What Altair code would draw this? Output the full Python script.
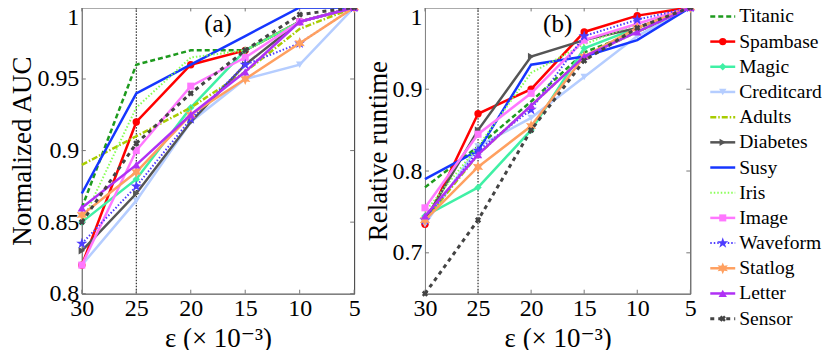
import altair as alt
import pandas as pd

eps = [30, 25, 20, 15, 10, 5]
series = ["Titanic", "Spambase", "Magic", "Creditcard", "Adults", "Diabetes", "Susy",
          "Iris", "Image", "Waveform", "Statlog", "Letter", "Sensor"]

auc = {
    "Titanic":    [0.86, 0.96, 0.97, 0.97, 0.99, 1.0],
    "Spambase":   [0.82, 0.92, 0.96, 0.97, 0.99, 1.0],
    "Magic":      [0.85, 0.88, 0.93, 0.97, 0.99, 1.0],
    "Creditcard": [0.82, 0.865, 0.92, 0.95, 0.96, 1.0],
    "Adults":     [0.89, 0.91, 0.93, 0.955, 0.985, 1.0],
    "Diabetes":   [0.83, 0.87, 0.92, 0.96, 0.99, 1.0],
    "Susy":       [0.87, 0.94, 0.96, 0.98, 1.0, 1.0],
    "Iris":       [0.85, 0.93, 0.965, 0.97, 0.99, 1.0],
    "Image":      [0.82, 0.90, 0.945, 0.965, 0.99, 1.0],
    "Waveform":   [0.835, 0.875, 0.922, 0.96, 0.975, 1.0],
    "Statlog":    [0.855, 0.885, 0.925, 0.95, 0.975, 1.0],
    "Letter":     [0.86, 0.89, 0.925, 0.955, 0.99, 1.0],
    "Sensor":     [0.85, 0.905, 0.94, 0.97, 0.995, 1.0],
}

runtime = {
    "Titanic":    [0.78, 0.83, 0.885, 0.945, 0.97, 1.0],
    "Spambase":   [0.735, 0.87, 0.90, 0.97, 0.99, 1.0],
    "Magic":      [0.745, 0.78, 0.85, 0.95, 0.975, 1.0],
    "Creditcard": [0.735, 0.83, 0.865, 0.915, 0.965, 1.0],
    "Adults":     [0.74, 0.82, 0.88, 0.94, 0.97, 1.0],
    "Diabetes":   [0.74, 0.85, 0.94, 0.96, 0.975, 1.0],
    "Susy":       [0.79, 0.825, 0.93, 0.94, 0.96, 1.0],
    "Iris":       [0.75, 0.83, 0.92, 0.955, 0.98, 1.0],
    "Image":      [0.755, 0.845, 0.895, 0.96, 0.98, 1.0],
    "Waveform":   [0.74, 0.825, 0.875, 0.965, 0.985, 1.0],
    "Statlog":    [0.74, 0.805, 0.855, 0.94, 0.975, 1.0],
    "Letter":     [0.745, 0.82, 0.88, 0.94, 0.97, 1.0],
    "Sensor":     [0.65, 0.74, 0.85, 0.935, 0.975, 1.0],
}

auc_ticks = [0.8, 0.85, 0.9, 0.95, 1.0]
rt_ticks = [0.7, 0.8, 0.9, 1.0]

PENTA = "M0,-1L0.225,-0.309L0.951,-0.309L0.363,0.118L0.588,0.809L0,0.382L-0.588,0.809L-0.363,0.118L-0.951,-0.309L-0.225,-0.309Z"
HEXA = "M0,-1L0.25,-0.433L0.866,-0.5L0.5,0L0.866,0.5L0.25,0.433L0,1L-0.25,0.433L-0.866,0.5L-0.5,0L-0.866,-0.5L-0.25,-0.433Z"

style = {
    "Titanic":    dict(color="#1e9a1e", dash=[5, 3], width=2.5, shape=None, size=0),
    "Spambase":   dict(color="#ff0000", dash=None, width=2.5, shape="circle", size=55),
    "Magic":      dict(color="#40f0a5", dash=None, width=2.5, shape="diamond", size=55),
    "Creditcard": dict(color="#b5cdff", dash=None, width=2.5, shape="triangle-down", size=55),
    "Adults":     dict(color="#a8cc00", dash=[6, 2, 1.5, 2], width=2.5, shape=None, size=0),
    "Diabetes":   dict(color="#555555", dash=None, width=2.5, shape="triangle-right", size=55),
    "Susy":       dict(color="#1636ff", dash=None, width=2.5, shape=None, size=0),
    "Iris":       dict(color="#88ff55", dash=[1.5, 2], width=2.0, shape=None, size=0),
    "Image":      dict(color="#ff77ff", dash=None, width=2.5, shape="square", size=50),
    "Waveform":   dict(color="#4e3cff", dash=[1.5, 2], width=2.0, shape=PENTA, size=140),
    "Statlog":    dict(color="#ffa060", dash=None, width=2.5, shape=HEXA, size=140),
    "Letter":     dict(color="#b030f5", dash=None, width=2.5, shape="triangle-up", size=70),
    "Sensor":     dict(color="#444444", dash=[4, 4], width=3.0, shape="cross", size=40),
}

FONT = "'Liberation Serif', 'DejaVu Serif', serif"


def panel(values, ydom, yticks, yfmt, ytitle, tag, width, height):
    xs = alt.Scale(domain=[30, 5], nice=False, zero=False)
    ys = alt.Scale(domain=ydom, nice=False, zero=False)
    X = alt.X("eps:Q", scale=xs,
              axis=alt.Axis(values=eps, format="d", title="ε (× 10⁻³)", tickSize=0,
                            labelPadding=3, titlePadding=5, labelFlush=False,
                            labelOverlap=False))
    Y = alt.Y("val:Q", scale=ys,
              axis=alt.Axis(values=yticks, format=yfmt, title=ytitle, tickSize=0,
                            labelPadding=3, titlePadding=0, labelFlush=False,
                            labelOverlap=False,
                            labelOffset={"condition": {"test": "datum.value >= 0.999", "value": 10},
                                         "value": 0}))
    layers = []
    layers.append(alt.Chart(pd.DataFrame({"eps": [25]})).mark_rule(
        color="black", strokeDash=[1.5, 1.5], strokeWidth=1).encode(x=X))
    xt = pd.DataFrame({"eps": eps})
    yt = pd.DataFrame({"val": yticks})
    layers.append(alt.Chart(xt).mark_rule(color="#777", strokeWidth=1).encode(
        x=X, y=alt.value(height), y2=alt.value(height - 4)))
    layers.append(alt.Chart(xt).mark_rule(color="#777", strokeWidth=1).encode(
        x=X, y=alt.value(0), y2=alt.value(4)))
    layers.append(alt.Chart(yt).mark_rule(color="#777", strokeWidth=1).encode(
        y=Y, x=alt.value(0), x2=alt.value(4)))
    layers.append(alt.Chart(yt).mark_rule(color="#777", strokeWidth=1).encode(
        y=Y, x=alt.value(width - 4), x2=alt.value(width)))
    for s in series:
        st = style[s]
        df = pd.DataFrame({"eps": eps, "val": values[s]})
        kw = dict(color=st["color"], strokeWidth=st["width"])
        if st["dash"]:
            kw["strokeDash"] = st["dash"]
        layers.append(alt.Chart(df).mark_line(**kw).encode(x=X, y=Y))
        if st["shape"]:
            pk = dict(shape=st["shape"], filled=True, size=st["size"], color=st["color"], opacity=1)
            if s == "Sensor":
                pk["angle"] = 45
            layers.append(alt.Chart(df).mark_point(**pk).encode(x=X, y=Y))
    layers.append(alt.Chart(pd.DataFrame({"t": [tag]})).mark_text(
        font=FONT, fontSize=25, color="black").encode(
        x=alt.value(width * 0.5), y=alt.value(17), text="t:N"))
    return alt.layer(*layers).properties(width=width, height=height)


pa = panel(auc, [0.8, 1.0], auc_ticks, ".2~f", "Normalized AUC", "(a)", 273, 287)
pb = panel(runtime, [0.65, 1.0], rt_ticks, ".1~f", "Relative runtime", "(b)", 266, 287)

leg_df = pd.DataFrame({"series": series, "idx": list(range(len(series)))})
YL = alt.Y("idx:Q", scale=alt.Scale(domain=[0, 12], range=[9, 312]), axis=None)
leg_layers = []
for s in series:
    st = style[s]
    d = leg_df[leg_df.series == s]
    kw = dict(color=st["color"], strokeWidth=st["width"])
    if st["dash"]:
        kw["strokeDash"] = st["dash"]
    leg_layers.append(alt.Chart(d).mark_rule(**kw).encode(
        x=alt.value(3), x2=alt.value(28), y=YL))
    if st["shape"]:
        pk = dict(shape=st["shape"], filled=True, size=st["size"], color=st["color"], opacity=1)
        if s == "Sensor":
            pk["angle"] = 45
        leg_layers.append(alt.Chart(d).mark_point(**pk).encode(x=alt.value(15.5), y=YL))
leg_layers.append(alt.Chart(leg_df).mark_text(
    font=FONT, fontSize=19.6, align="left", baseline="middle", color="black").encode(
    x=alt.value(32), y=YL, text="series:N"))
legend = alt.layer(*leg_layers).properties(
    width=50, height=300, view=alt.ViewBackground(strokeWidth=0, stroke=None))

chart = alt.hconcat(alt.hconcat(pa, pb, spacing=2), legend, spacing=10).properties(
    padding={"left": 0, "top": -8, "right": 0, "bottom": -3}
).configure_view(stroke="#333", strokeWidth=1).configure_axis(
    grid=False, labelFont=FONT, titleFont=FONT, labelFontSize=24, titleFontSize=27,
    titleFontWeight="normal", labelColor="black", titleColor="black",
    domainColor="#888", domainWidth=1
)

chart.save("out.html", embed_options={"renderer": "svg", "actions": False})
